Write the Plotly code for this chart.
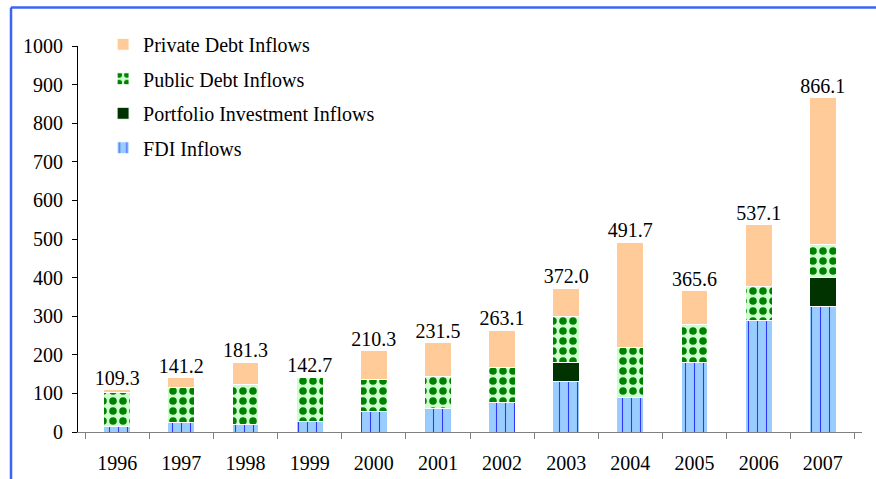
import plotly.graph_objects as go

years = ["1996", "1997", "1998", "1999", "2000", "2001",
         "2002", "2003", "2004", "2005", "2006", "2007"]
fdi = [15.0, 25.0, 20.0, 27.0, 53.0, 61.0, 77.0, 132.0, 90.0, 181.0, 290.0, 326.0]
portfolio = [0.0, 0.0, 0.0, 0.0, 0.0, 0.0, 0.0, 48.0, 0.0, 0.0, 0.0, 75.0]
public_debt = [88.0, 91.0, 102.0, 114.0, 84.0, 84.0, 90.0, 120.0, 130.0, 97.0, 88.0, 84.0]
private_debt = [6.3, 25.2, 59.3, 1.7, 73.3, 86.5, 96.1, 72.0, 271.7, 87.6, 159.1, 381.1]
y_ticks = [0, 100, 200, 300, 400, 500, 600, 700, 800, 900, 1000]

totals = [round(a + b + c + d, 1) for a, b, c, d in zip(fdi, portfolio, public_debt, private_debt)]

FONT = "Liberation Serif, Times New Roman, serif"
FS = 20

fig = go.Figure()

series = [
    ("FDI Inflows", fdi, 4,
     dict(color="#99CCFF", pattern=dict(shape="|", fgcolor="#1414F5", bgcolor="#99CCFF",
                                        size=9, solidity=0.12, fgopacity=0.8,
                                        fillmode="overlay"))),
    ("Portfolio Investment Inflows", portfolio, 3, dict(color="#003300")),
    ("Public Debt Inflows", public_debt, 2,
     dict(color="#CCFFCC", pattern=dict(shape=".", fgcolor="#008000", bgcolor="#CCFFCC",
                                        size=10, solidity=0.45, fgopacity=1,
                                        fillmode="overlay"))),
    ("Private Debt Inflows", private_debt, 1, dict(color="#FFCC99")),
]

for name, vals, rank, marker in series:
    marker = dict(marker)
    marker["line"] = dict(color="white", width=1)
    fig.add_trace(go.Bar(x=years, y=vals, name=name, marker=marker,
                         legendgroup=name, legendrank=rank,
                         hoverinfo="x+y+name"))

# total labels above each stack
fig.add_trace(go.Scatter(
    x=years, y=totals, mode="text",
    text=[f"{t:.1f}" for t in totals],
    textposition="top center",
    textfont=dict(family=FONT, size=FS, color="black"),
    showlegend=False, hoverinfo="skip", cliponaxis=False,
))

# frame lines along the top and left edges of the page
fig.add_shape(type="line", xref="paper", yref="paper",
              x0=(11 - 78) / 784, x1=(890 - 78) / 784,
              y0=(432 - 7.5) / 386, y1=(432 - 7.5) / 386,
              line=dict(color="#3D63F5", width=2.5))
fig.add_shape(type="line", xref="paper", yref="paper",
              x0=(11 - 78) / 784, x1=(11 - 78) / 784,
              y0=(432 - 7.5) / 386, y1=(432 - 490) / 386,
              line=dict(color="#3D63F5", width=2.5))

fig.update_layout(
    width=876, height=479,
    margin=dict(l=78, r=14, t=46, b=47),
    barmode="stack", bargap=0.58,
    plot_bgcolor="white", paper_bgcolor="white",
    font=dict(family=FONT, size=FS, color="black"),
    showlegend=True,
    legend=dict(
        x=0.032, y=1.055, xanchor="left", yanchor="top",
        traceorder="grouped", tracegroupgap=5.5,
        font=dict(family=FONT, size=FS, color="black"),
        bgcolor="rgba(0,0,0,0)",
    ),
    xaxis=dict(
        type="category", showgrid=False, showline=True,
        linecolor="#808080", linewidth=1,
        ticks="outside", ticklen=6, tickcolor="#808080",
        tickson="boundaries", ticklabelstandoff=13, automargin=False,
        tickfont=dict(family=FONT, size=FS, color="black"),
    ),
    yaxis=dict(
        range=[0, 1000], tickvals=y_ticks, showgrid=False,
        showline=True, linecolor="black", linewidth=1,
        ticks="outside", ticklen=5, tickcolor="black",
        zeroline=False, ticklabelstandoff=5, automargin=False,
        tickfont=dict(family=FONT, size=FS, color="black"),
    ),
)

fig.write_html("out.html")
